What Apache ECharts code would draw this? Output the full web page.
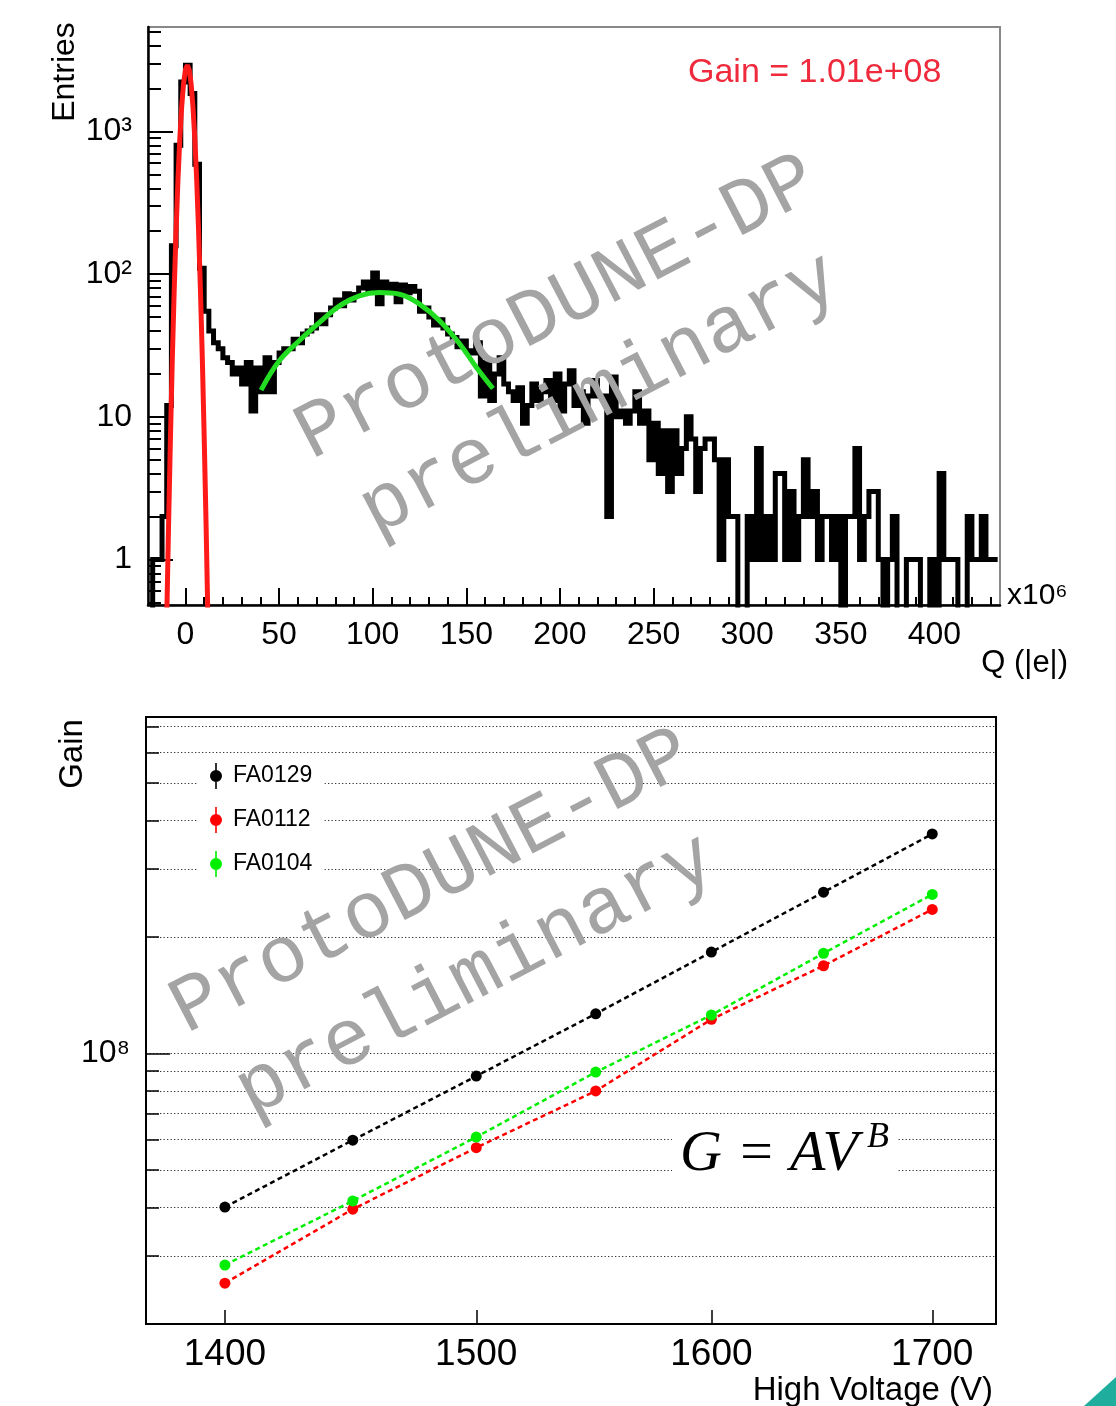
<!DOCTYPE html>
<html>
<head>
<meta charset="utf-8">
<title>ProtoDUNE-DP PMT charge spectrum and gain</title>
<script src="https://cdn.jsdelivr.net/npm/echarts@6/dist/echarts.min.js"></script>
<style>
  html, body { margin: 0; padding: 0; background: #fff; }
  #chart { width: 1116px; height: 1406px; }
</style>
</head>
<body>
<div id="chart"></div>
<script>
// ---- top: charge spectrum, Q in units of 10^6 |e| ----
var binStart = -20;
var binWidth = 2.5;
var histCounts = [
  0, 1, 1, 2, 12, 158, 800, 2220, 2910, 1850,
  590, 110, 55, 40, 33, 30, 26, 24, 20, 22,
  17, 24, 11, 22, 15, 26, 15, 24, 28, 30,
  30, 35, 33, 38, 40, 42, 52, 45, 52, 58,
  66, 60, 73, 66, 72, 80, 88, 78, 102, 62,
  88, 78, 85, 64, 84, 74, 82, 76, 55, 58,
  50, 44, 48, 42, 38, 36, 31, 34, 29, 28,
  33, 14, 24, 13, 20, 26, 17, 15, 13, 16,
  9, 12, 17, 13, 15, 18, 13, 20, 11, 17,
  21, 12, 15, 9, 14, 18, 14, 14, 2, 19,
  10, 11, 9, 11, 15, 9, 11, 5, 9, 4,
  8, 3, 8, 4, 6, 10, 7, 3, 6, 7,
  7, 5, 1, 5, 2, 2, 0, 0, 2, 1,
  6, 1, 2, 1, 4, 4, 1, 3, 1, 2,
  5, 2, 3, 1, 2, 2, 1, 2, 0, 2,
  2, 6, 1, 2, 3, 3, 1, 0, 1, 2,
  0, 0, 1, 1, 1, 0, 0, 1, 0, 4,
  1, 1, 1, 0, 0, 2, 1, 1, 2, 1, 1, 1
];
var emptyBinFloor = 0.2; // empty bins drop below the axis and get clipped

// pedestal fit (red)
var pedFitQ = [-10, -9, -8, -7, -6, -5, -4, -3, -2, -1, 0, 1, 2, 3, 4, 5, 6, 7, 8, 9, 10, 11, 12];
var pedFitN = [0.38, 1.8, 7.3, 26, 78, 204, 459, 894, 1500, 2170, 2710, 2920, 2710, 2170, 1500, 894, 459, 204, 78, 26, 7.3, 1.8, 0.38];

// single photo-electron fit (green)
var speFitQ = [40.4, 50.2, 60.9, 71.6, 82.3, 92.9, 103.6, 114.3, 125, 135.7, 146.4, 155.3, 164.2];
var speFitN = [15.4, 24.8, 34.3, 45.9, 60.0, 70.5, 74.3, 72.4, 61.7, 47.2, 32.5, 22.3, 15.8];

var qMajorTicks = [0, 50, 100, 150, 200, 250, 300, 350, 400];
var qMinorTicks = [];
for (var q = -10; q <= 430; q += 10) qMinorTicks.push(q);

var entriesMajorTicks = [1, 10, 100, 1000];
var entriesTickLabels = ['1', '10', '10²', '10³'];
var entriesMinorTicks = [0.5, 0.6, 0.7, 0.8, 0.9,
  2, 3, 4, 5, 6, 7, 8, 9,
  20, 30, 40, 50, 60, 70, 80, 90,
  200, 300, 400, 500, 600, 700, 800, 900,
  2000, 3000, 4000, 5000];

// ---- bottom: gain vs high voltage ----
var hvValues = [1400, 1450, 1500, 1550, 1600, 1650, 1700];
var gainFA0129 = [4.01e7, 5.97e7, 8.74e7, 1.266e8, 1.828e8, 2.61e8, 3.69e8];
var gainFA0112 = [2.55e7, 3.96e7, 5.71e7, 8.0e7, 1.225e8, 1.685e8, 2.356e8];
var gainFA0104 = [2.84e7, 4.16e7, 6.08e7, 8.95e7, 1.257e8, 1.814e8, 2.576e8];

var hvTicks = [1400, 1500, 1600, 1700];
var gainGridTicks = [2e7, 3e7, 4e7, 5e7, 6e7, 7e7, 8e7, 9e7, 1e8, 2e8, 3e8, 4e8, 5e8, 6e8, 7e8];
var gainMajorTicks = [1e8];
var gainTickLabels = ['10⁸'];

var sans = '"Liberation Sans", Arial, Helvetica, sans-serif';
var serif = '"Liberation Serif", "Times New Roman", serif';

function pairs(xs, ys) {
  return xs.map(function (x, i) { return [x, ys[i]]; });
}

function logLabel(ticks, labels) {
  return function (v) {
    for (var i = 0; i < ticks.length; i++) {
      if (Math.abs(Math.log10(v) - Math.log10(ticks[i])) < 1e-6) return labels[i];
    }
    return '';
  };
}

var histData = histCounts.map(function (n, i) {
  return [binStart + binWidth * (i + 0.5), n > 0 ? n : emptyBinFloor];
});

var legendIcon = 'path://M5.2,0H6.8V8H5.2Z M5.2,18H6.8V26H5.2Z M0,13A6,6 0 1,1 12,13A6,6 0 1,1 0,13Z';

function watermark(x, y, text) {
  return {
    type: 'text', x: x, y: y, rotation: 27.5 * Math.PI / 180, z: 100,
    style: {
      text: text, fill: '#a4a4a4', fontSize: 80,
      fontFamily: '"Liberation Mono", "Courier New", monospace',
      align: 'center', verticalAlign: 'middle'
    }
  };
}

var chart = echarts.init(document.getElementById('chart'));

chart.setOption({
  animation: false,
  backgroundColor: '#fff',
  grid: [
    { left: 148, top: 27, width: 852, height: 578, show: true, borderColor: '#888', borderWidth: 2,
      containLabel: false, outerBoundsMode: 'none' },
    { left: 146, top: 717, width: 850, height: 607, show: true, borderColor: '#000', borderWidth: 2,
      containLabel: false, outerBoundsMode: 'none' }
  ],
  xAxis: [
    {
      gridIndex: 0, type: 'value', min: -20, max: 435, position: 'bottom',
      axisLine: { show: true, onZero: false, lineStyle: { color: '#000', width: 2.5 } },
      axisTick: { show: true, inside: true, length: 8, customValues: qMinorTicks, lineStyle: { color: '#000', width: 2 } },
      axisLabel: { show: false },
      splitLine: { show: false }
    },
    {
      gridIndex: 0, type: 'value', min: -20, max: 435, position: 'bottom',
      axisLine: { show: false, onZero: false },
      axisTick: { show: true, inside: true, length: 17, customValues: qMajorTicks, lineStyle: { color: '#000', width: 2 } },
      axisLabel: { show: true, customValues: qMajorTicks, margin: 14, color: '#000', fontSize: 32, fontFamily: sans,
        formatter: function (v) { return String(Math.round(v)); } },
      splitLine: { show: false }
    },
    {
      gridIndex: 1, type: 'log', logBase: 10, min: 1370, max: 1730, position: 'bottom',
      axisLine: { show: true, onZero: false, lineStyle: { color: '#000', width: 2 } },
      axisTick: { show: true, inside: true, length: 14, customValues: hvTicks, lineStyle: { color: '#000', width: 1.5 } },
      axisLabel: { show: true, customValues: hvTicks, margin: 12, color: '#000', fontSize: 37, fontFamily: sans,
        formatter: function (v) { return String(Math.round(v)); } },
      splitLine: { show: false }
    }
  ],
  yAxis: [
    {
      gridIndex: 0, type: 'log', logBase: 10, min: 0.48, max: 5400, position: 'left',
      axisLine: { show: true, onZero: false, lineStyle: { color: '#000', width: 2.5 } },
      axisTick: { show: true, inside: true, length: 13, customValues: entriesMinorTicks, lineStyle: { color: '#000', width: 2 } },
      axisLabel: { show: false },
      splitLine: { show: false }
    },
    {
      gridIndex: 0, type: 'log', logBase: 10, min: 0.48, max: 5400, position: 'left',
      axisLine: { show: false, onZero: false },
      axisTick: { show: true, inside: true, length: 25, customValues: entriesMajorTicks, lineStyle: { color: '#000', width: 2 } },
      axisLabel: { show: true, customValues: entriesMajorTicks, margin: 16, color: '#000', fontSize: 32, fontFamily: sans,
        padding: [8, 0, 0, 0], formatter: logLabel(entriesMajorTicks, entriesTickLabels) },
      splitLine: { show: false }
    },
    {
      gridIndex: 1, type: 'log', logBase: 10, min: 2e7, max: 7.4e8, position: 'left',
      axisLine: { show: true, onZero: false, lineStyle: { color: '#000', width: 2 } },
      axisTick: { show: true, inside: true, length: 13, customValues: gainGridTicks, lineStyle: { color: '#000', width: 1.5 } },
      axisLabel: { show: false },
      splitLine: { show: true, lineStyle: { color: '#333', width: 1, type: [1.3, 2.2] } }
    },
    {
      gridIndex: 1, type: 'log', logBase: 10, min: 2e7, max: 7.4e8, position: 'left',
      axisLine: { show: false, onZero: false },
      axisTick: { show: true, inside: true, length: 24, customValues: gainMajorTicks, lineStyle: { color: '#000', width: 1.5 } },
      axisLabel: { show: true, customValues: gainMajorTicks, margin: 16, color: '#000', fontSize: 32, fontFamily: sans,
        formatter: logLabel(gainMajorTicks, gainTickLabels) },
      splitLine: { show: false }
    }
  ],
  legend: {
    data: ['FA0129', 'FA0112', 'FA0104'],
    orient: 'vertical',
    left: 198, top: 755,
    padding: [8, 12, 8, 12],
    backgroundColor: '#fff',
    itemWidth: 12, itemHeight: 26, itemGap: 18,
    icon: legendIcon,
    selectedMode: false,
    textStyle: { color: '#000', fontSize: 23, fontFamily: sans, padding: [0, 0, 0, 6] }
  },
  series: [
    {
      name: 'hist', type: 'line', xAxisIndex: 0, yAxisIndex: 0, step: 'middle',
      showSymbol: false, symbol: 'none', clip: true, z: 3,
      lineStyle: { color: '#000', width: 5, join: 'miter', cap: 'butt' },
      data: histData
    },
    {
      name: 'pedestal fit', type: 'line', xAxisIndex: 0, yAxisIndex: 0,
      showSymbol: false, symbol: 'none', clip: true, z: 4,
      lineStyle: { color: '#ff1a1a', width: 5 },
      data: pairs(pedFitQ, pedFitN)
    },
    {
      name: 'SPE fit', type: 'line', xAxisIndex: 0, yAxisIndex: 0, smooth: 0.4,
      showSymbol: false, symbol: 'none', clip: true, z: 4,
      lineStyle: { color: '#22dd22', width: 5 },
      data: pairs(speFitQ, speFitN)
    },
    {
      name: 'FA0129', type: 'line', xAxisIndex: 2, yAxisIndex: 2,
      symbol: 'circle', symbolSize: 11, z: 5,
      itemStyle: { color: '#000' },
      lineStyle: { color: '#000', width: 2.5, type: [5, 3.5] },
      data: pairs(hvValues, gainFA0129)
    },
    {
      name: 'FA0112', type: 'line', xAxisIndex: 2, yAxisIndex: 2,
      symbol: 'circle', symbolSize: 11, z: 5,
      itemStyle: { color: '#ff0000' },
      lineStyle: { color: '#ff0000', width: 2.5, type: [5, 3.5] },
      data: pairs(hvValues, gainFA0112)
    },
    {
      name: 'FA0104', type: 'line', xAxisIndex: 2, yAxisIndex: 2,
      symbol: 'circle', symbolSize: 11, z: 5,
      itemStyle: { color: '#00ee00' },
      lineStyle: { color: '#00ee00', width: 2.5, type: [5, 3.5] },
      data: pairs(hvValues, gainFA0104)
    }
  ],
  graphic: [
    { type: 'text', x: 65, y: 72, rotation: Math.PI / 2, style: { text: 'Entries', fontSize: 32, fontFamily: sans, fill: '#000', align: 'center', verticalAlign: 'middle' } },
    { type: 'text', x: 688, y: 73, style: { text: 'Gain = 1.01e+08', fontSize: 34, fontFamily: sans, fill: '#ee2a3c', align: 'left', verticalAlign: 'middle' } },
    { type: 'text', x: 1007, y: 596, style: { text: 'x10⁶', fontSize: 30, fontFamily: sans, fill: '#000', align: 'left', verticalAlign: 'middle' } },
    { type: 'text', x: 1068, y: 663, style: { text: 'Q (|e|)', fontSize: 31, fontFamily: sans, fill: '#000', align: 'right', verticalAlign: 'middle' } },
    { type: 'text', x: 73, y: 754, rotation: Math.PI / 2, style: { text: 'Gain', fontSize: 33, fontFamily: sans, fill: '#000', align: 'center', verticalAlign: 'middle' } },
    { type: 'text', x: 993, y: 1374, style: { text: 'High Voltage (V)', fontSize: 33, fontFamily: sans, fill: '#000', align: 'right', verticalAlign: 'top' } },
    {
      type: 'text', x: 672, y: 1152, z: 50,
      style: {
        text: '{m|G = AV}{s|B}',
        backgroundColor: '#fff', padding: [6, 8, 6, 8],
        align: 'left', verticalAlign: 'middle',
        rich: {
          m: { fontSize: 58, fontStyle: 'italic', fontFamily: serif, fill: '#000', lineHeight: 64, verticalAlign: 'bottom' },
          s: { fontSize: 36, fontStyle: 'italic', fontFamily: serif, fill: '#000', lineHeight: 64, verticalAlign: 'top', padding: [0, 0, 0, 9] }
        }
      }
    },
    watermark(557, 308, 'ProtoDUNE-DP'),
    watermark(600, 395, 'preliminary'),
    watermark(432, 882, 'ProtoDUNE-DP'),
    watermark(476, 976, 'preliminary'),
    { type: 'polygon', z: 10, shape: { points: [[1084, 1406], [1116, 1377], [1116, 1406]] }, style: { fill: '#1fae9e' } }
  ]
});
</script>
</body>
</html>
